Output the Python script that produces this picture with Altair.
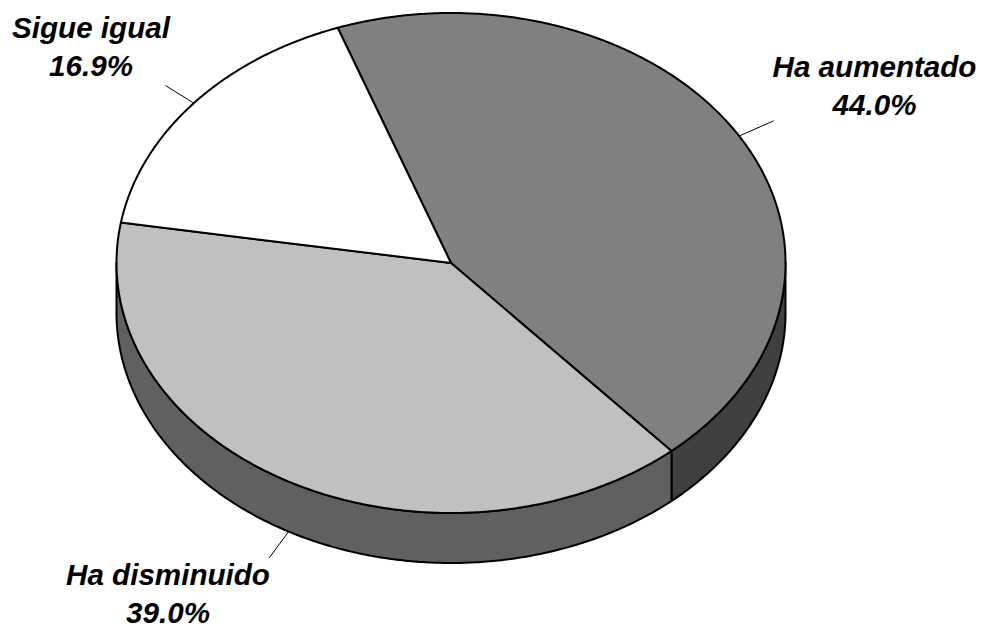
import math
import altair as alt

categories = ["Ha aumentado", "Ha disminuido", "Sigue igual"]
shares = [44.0, 39.0, 16.9]
top_colors = ["#808080", "#C0C0C0", "#FFFFFF"]
side_colors = ["#404040", "#606060", "#808080"]
label_x = [874.5, 168, 91]
label_y = [87, 595, 47.5]

W, H = 985, 628
CX, CY = 451 - 8, 263 - 8
RX, RY = 334.5, 250
DEPTH = 50
START = -19.8
total = sum(shares)


def pt(a, dy=0, k=1.0):
    r = math.radians(a)
    return [RX * k * math.sin(r), -RY * k * math.cos(r) + dy]


def arc(a0, a1, dy=0):
    n = max(2, int(abs(a1 - a0) * 2))
    return [pt(a0 + (a1 - a0) * i / n, dy) for i in range(n + 1)]


def feature(coords, fill, kind="Polygon"):
    if kind == "Polygon":
        geometry = {"type": "Polygon", "coordinates": [coords + [coords[0]]]}
    else:
        geometry = {"type": "LineString", "coordinates": coords}
    return {"type": "Feature", "geometry": geometry, "properties": {"fill": fill}}


spans = []
a = START
for s in shares:
    b = a + 360 * s / total
    spans.append((a, b))
    a = b

sides, tops, leaders = [], [], []
for (a0, b0), top, side in zip(spans, top_colors, side_colors):
    lo, hi = max(a0, 90), min(b0, 270)
    if lo < hi:
        sides.append(feature(arc(lo, hi) + arc(hi, lo, DEPTH), side))
    tops.append(feature([[0, 0]] + arc(a0, b0), top))

mids = [(a0 + b0) / 2 for a0, b0 in spans]
leaders.append(feature([pt(mids[0]), pt(mids[0], 0, 1.12)], "none", "Line"))
leaders.append(feature([pt(mids[1], DEPTH), pt(mids[1], DEPTH, 1.12)], "none", "Line"))
leaders.append(feature([pt(mids[2]), pt(mids[2], 0, 1.11)], "none", "Line"))


def shapes(features, width):
    return (
        alt.Chart(alt.InlineData(values={"type": "FeatureCollection", "features": features},
                                 format=alt.DataFormat(property="features", type="json")))
        .mark_geoshape(stroke="#000000", strokeWidth=width, strokeJoin="round")
        .encode(fill=alt.Fill("properties.fill:N", scale=None))
        .project(type="identity", scale=1, translate=[CX, CY])
    )


rows = []
for c, s, x, y in zip(categories, shares, label_x, label_y):
    rows.append({"name": c, "pct": f"{s:.1f}%", "x": x - 8, "y": y - 8})


def texts(field, dy):
    return (
        alt.Chart(alt.Data(values=rows))
        .mark_text(font="Liberation Sans", fontSize=29.6, fontWeight="bold", fontStyle="italic",
                   color="#000000", align="center", baseline="middle", dy=dy)
        .encode(x=alt.X("x:Q", scale=None), y=alt.Y("y:Q", scale=None), text=f"{field}:N")
    )


chart = (
    alt.layer(shapes(sides, 2), shapes(tops, 2), shapes(leaders, 1),
              texts("name", -19), texts("pct", 19))
    .properties(width=W - 16, height=H - 8, padding=0,
                autosize=alt.AutoSizeParams(type="none"), background="#FFFFFF")
    .configure_view(stroke=None)
)
chart.save("out.html", embed_options={"renderer": "svg", "actions": False})
